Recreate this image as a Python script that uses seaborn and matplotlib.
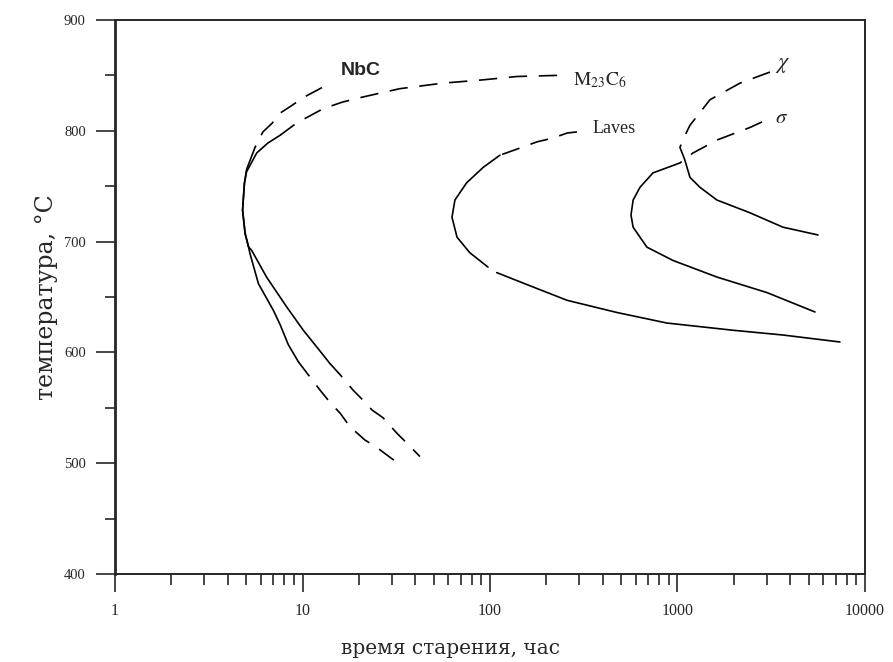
import matplotlib
matplotlib.use("Agg")
import matplotlib.pyplot as plt
import matplotlib.ticker as mticker
import numpy as np
import pandas as pd
import seaborn as sns

# aging time (h) / temperature (C)
nbc_top_t = [12.7, 10.1, 8.8, 7.6, 6.9, 6.15, 5.58]
nbc_top_T = [839, 830, 823, 816, 807, 799, 785]
nbc_mid_t = [5.58, 5.03, 4.9, 4.79, 4.94, 5.15, 5.25, 5.82, 6.99, 7.6, 8.4, 9.5]
nbc_mid_T = [785, 765, 752.6, 728.5, 707.5, 695.4, 689, 662, 638, 625, 607, 591.6]
nbc_bot_t = [9.5, 10.6, 12.4, 14.0, 15.9, 17.9, 21.5, 25.0, 32.3]
nbc_bot_T = [591.6, 581, 566, 555, 545, 533, 521, 514, 500]

m23_top_t = [228, 139, 92, 56, 33, 21, 16.4, 12.9, 9.3, 7.6]
m23_top_T = [850, 849, 846, 843, 838, 830.5, 826, 820, 807, 796]
m23_mid_t = [7.6, 6.54, 5.7, 5.03, 4.9, 4.79, 4.94, 5.15, 5.36, 6.43, 8.24, 10.1, 11.9, 14.0]
m23_mid_T = [796, 789, 780, 763, 752.6, 728.5, 707.5, 695.4, 692, 668, 641, 620, 605, 590]
m23_bot_t = [14.0, 15.85, 18.6, 21.0, 23.5, 26.9, 31.9, 36.1, 42.3]
m23_bot_T = [590, 580, 566, 557, 548, 541, 527, 518, 506]

laves_top_t = [291, 258, 217, 178, 145, 113]
laves_top_T = [799, 798, 793.5, 790, 784.5, 778]
laves_mid_t = [113, 92, 75, 65, 62.7, 66.7, 78, 97.6]
laves_mid_T = [778, 767, 753, 737.5, 722, 704, 690, 677]
laves_bot_t = [108.7, 170, 258, 476, 879, 1977, 3652, 7357]
laves_bot_T = [672, 659, 647, 636, 626.5, 620, 615.7, 609.4]

sigma_top_t = [2825, 2436, 1644, 1210, 1031]
sigma_top_T = [808, 803, 792, 780, 771]
sigma_mid_t = [1031, 740, 631, 580, 565, 580, 687, 946, 1624, 3000, 5412]
sigma_mid_T = [771, 762, 749, 737.5, 724, 713, 695, 683, 668, 654, 636.5]

chi_top_t = [3113, 2154, 1490, 1166, 1069, 1031]
chi_top_T = [853, 843, 828, 805, 792, 785]
chi_mid_t = [1031, 1093, 1166, 1318, 1624, 2436, 3652, 5616]
chi_mid_T = [785, 774, 758, 749, 737.5, 726, 713, 706]

x_ticks = [1, 10, 100, 1000, 10000]
x_ticklabels = ["1", "10", "100", "1000", "10000"]
y_ticks = [400, 500, 600, 700, 800, 900]

segments = [
    (nbc_top_t, nbc_top_T, "dashed"), (nbc_mid_t, nbc_mid_T, "solid"), (nbc_bot_t, nbc_bot_T, "dashed"),
    (m23_top_t, m23_top_T, "dashed"), (m23_mid_t, m23_mid_T, "solid"), (m23_bot_t, m23_bot_T, "dashed"),
    (laves_top_t, laves_top_T, "dashed"), (laves_mid_t, laves_mid_T, "solid"), (laves_bot_t, laves_bot_T, "solid"),
    (sigma_top_t, sigma_top_T, "dashed"), (sigma_mid_t, sigma_mid_T, "solid"),
    (chi_top_t, chi_top_T, "dashed"), (chi_mid_t, chi_mid_T, "solid"),
]

sns.set_style("ticks")
plt.rcParams["font.family"] = ["Liberation Serif", "DejaVu Serif"]
plt.rcParams["mathtext.fontset"] = "stix"

fig, ax = plt.subplots(figsize=(8.93, 6.62), dpi=100)
fig.subplots_adjust(left=0.1288, right=0.9686, bottom=0.1329, top=0.9698)

for t, T, ls in segments:
    df = pd.DataFrame({"t": t, "T": T})
    style = "-" if ls == "solid" else (0, (11, 7))
    sns.lineplot(data=df, x="t", y="T", sort=False, estimator=None, ax=ax,
                 color="black", linewidth=1.2, linestyle=style)

ax.set_xscale("log")
ax.set_xlim(1, 10000)
ax.set_ylim(400, 900)
ax.set_xticks(x_ticks)
ax.set_xticklabels(x_ticklabels)
ax.xaxis.set_minor_locator(mticker.LogLocator(base=10, subs=np.arange(2, 10)))
ax.xaxis.set_minor_formatter(mticker.NullFormatter())
ax.set_yticks(y_ticks)
ax.yaxis.set_minor_locator(mticker.MultipleLocator(50))

ax.tick_params(axis="x", which="major", length=13, width=1.2, pad=8, labelsize=11.5)
ax.tick_params(axis="x", which="minor", length=8, width=1.2)
ax.tick_params(axis="y", which="major", length=14, width=1.2, pad=7, labelsize=10.5)
ax.tick_params(axis="y", which="minor", length=7, width=1.2)
for side in ["top", "right", "bottom"]:
    ax.spines[side].set_linewidth(1.4)
ax.spines["left"].set_linewidth(2.0)

ax.set_xlabel("время старения, час", fontsize=14.5, family="DejaVu Serif", va="center")
ax.xaxis.set_label_coords(0.447, -0.135)
ax.set_ylabel("температура, °C", fontsize=17, family="DejaVu Serif", va="center")
ax.yaxis.set_label_coords(-0.091, 0.5)

ax.text(20.5, 854, "NbC", fontsize=14, fontweight="bold", family="Liberation Sans",
        ha="center", va="center")
ax.text(277, 846, r"$\mathrm{M_{23}C_6}$", fontsize=14, ha="left", va="center")
ax.text(354, 802.5, "Laves", fontsize=13, ha="left", va="center")
ax.text(3607, 811.5, r"$\sigma$", fontsize=15, ha="center", va="center")
ax.text(3652, 858.5, r"$\chi$", fontsize=16, ha="center", va="center")

fig.savefig("out.png", dpi=100)
